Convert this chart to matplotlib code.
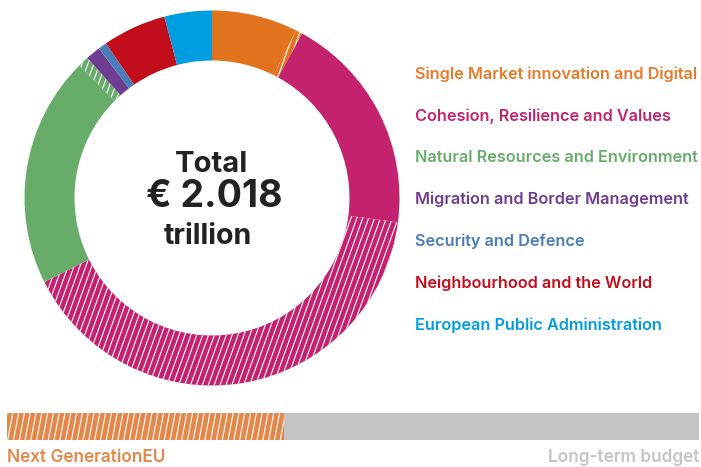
import numpy as np
import matplotlib
matplotlib.use('Agg')
import matplotlib.pyplot as plt
from matplotlib.collections import LineCollection

# 数据 (十亿欧元, 当前价格)
headings = ['Single Market innovation and Digital',
            'Cohesion, Resilience and Values',
            'Natural Resources and Environment',
            'Migration and Border Management',
            'Security and Defence',
            'Neighbourhood and the World',
            'European Public Administration']
mff_values = [149.5, 385.0, 401.0, 25.7, 14.9, 110.6, 82.5]    # 长期预算部分
ngeu_values = [11.5, 818.2, 18.9, 0.0, 0.0, 0.0, 0.0]         # NGEU 部分 (斜线)
colors = ['#E1731E', '#C4216E', '#68AC6A', '#6D3D92', '#4A7DBA', '#C20E1A', '#009EE0']
text_colors = ['#E57A28', '#C4216E', '#68AC6A', '#6D3D92', '#4A7DBA', '#C20E1A', '#009EE0']

total_label = ['Total', '€ 2.018', 'trillion']
bar_labels = ['Next GenerationEU', 'Long-term budget']
bar_values = [806.9, 1210.9]
bar_colors = ['#E3874B', '#C4C4C4']

plt.rcParams['font.family'] = ['Inter', 'DejaVu Sans']

W, H = 701, 467
fig = plt.figure(figsize=(W / 100, H / 100), dpi=100)
ax = fig.add_axes([0, 0, 1, 1])


def hatch_lines(target_ax, clip_patch, x0, x1, y0, y1, step, lean):
    """在像素坐标里画白色斜线, 裁剪到 patch 内"""
    xs = np.arange(x0 - lean * (y1 - y0), x1, step)
    segs = [[(x, y0), (x + lean * (y1 - y0), y1)] for x in xs]
    lc = LineCollection(segs, colors='white', linewidths=0.8,
                        transform=ax.transData, zorder=3)
    target_ax.add_collection(lc, autolim=False)
    lc.set_clip_path(clip_patch)


# 组合扇区: 每个类别先实心, 再斜线
vals, cols, hatched = [], [], []
for m, n, c in zip(mff_values, ngeu_values, colors):
    vals.append(m); cols.append(c); hatched.append(False)
    if n > 0:
        vals.append(n); cols.append(c); hatched.append(True)

cx, cy, r = 212, H - 198, 187.5
wedges, _ = ax.pie(vals, colors=cols, startangle=90, counterclock=False,
                   radius=r, center=(cx, cy),
                   wedgeprops=dict(width=50, linewidth=0))
for w, h in zip(wedges, hatched):
    if h:
        hatch_lines(ax, w, cx - r, cx + r, cy - r, cy + r, 5.9, 0.36)

ax.set_xlim(0, W)
ax.set_ylim(0, H)
ax.set_aspect('equal')
ax.axis('off')

# 中心文字
ax.text(cx - 1, H - 164, total_label[0], ha='center', va='center',
        fontsize=21, fontweight='bold', color='#222222')
ax.text(cx + 2, H - 197, total_label[1], ha='center', va='center',
        fontsize=27, fontweight='bold', color='#222222')
ax.text(cx - 4, H - 236, total_label[2], ha='center', va='center',
        fontsize=20.5, fontweight='bold', color='#222222')

# 图例文字
for i, (name, tc) in enumerate(zip(headings, text_colors)):
    ax.text(415, H - (74 + i * 41.8), name, ha='left', va='center',
            fontsize=11.7, fontweight='semibold', color=tc)

# 底部条形
bx = fig.add_axes([7 / W, 27 / H, 692 / W, 27 / H])
bars1 = bx.barh(0.5, bar_values[0], height=1, left=0, color=bar_colors[0],
                linewidth=0)
bx.barh(0.5, bar_values[1], height=1, left=bar_values[0], color=bar_colors[1],
        linewidth=0)
bx.set_xlim(0, sum(bar_values))
bx.set_ylim(0, 1)
bx.axis('off')
hatch_lines(bx, bars1[0], 7, 290, 27, 54, 5.8, 0.19)

ax.text(7, H - 458, bar_labels[0], ha='left', va='center',
        fontsize=12.4, fontweight='semibold', color=bar_colors[0])
ax.text(699, H - 458, bar_labels[1], ha='right', va='center',
        fontsize=12.4, fontweight='semibold', color=bar_colors[1])

fig.savefig('out.png', dpi=100)
